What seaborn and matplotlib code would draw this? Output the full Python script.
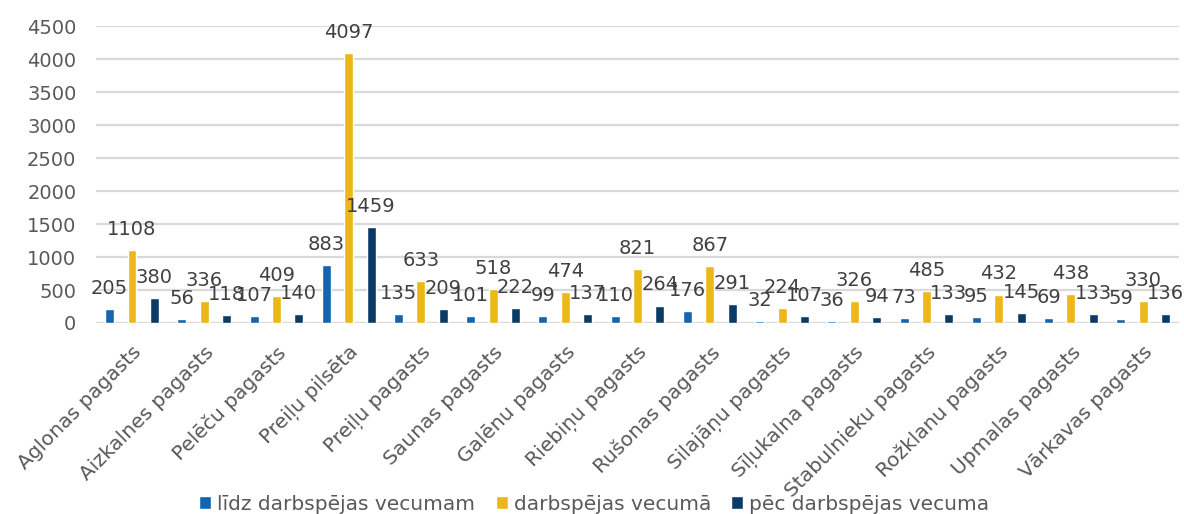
import pandas as pd
import matplotlib
matplotlib.use('Agg')
import matplotlib.pyplot as plt
import seaborn as sns

# categories (municipalities) and population counts per age group
pagasti = ['Aglonas pagasts', 'Aizkalnes pagasts', 'Pelēču pagasts', 'Preiļu pilsēta',
           'Preiļu pagasts', 'Saunas pagasts', 'Galēnu pagasts', 'Riebiņu pagasts',
           'Rušonas pagasts', 'Silajāņu pagasts', 'Sīļukalna pagasts', 'Stabulnieku pagasts',
           'Rožklanu pagasts', 'Upmalas pagasts', 'Vārkavas pagasts']
lidz = [205, 56, 107, 883, 135, 101, 99, 110, 176, 32, 36, 73, 95, 69, 59]
darbspejas = [1108, 336, 409, 4097, 633, 518, 474, 821, 867, 224, 326, 485, 432, 438, 330]
pec = [380, 118, 140, 1459, 209, 222, 137, 264, 291, 107, 94, 133, 145, 133, 136]
groups = ['līdz darbspējas vecumam', 'darbspējas vecumā', 'pēc darbspējas vecuma']
colors = ['#1265B0', '#EBB719', '#0A3A66']

df = pd.DataFrame({
    'pagasts': pagasti * 3,
    'grupa': [groups[0]] * len(pagasti) + [groups[1]] * len(pagasti) + [groups[2]] * len(pagasti),
    'skaits': lidz + darbspejas + pec,
})

sns.set_style('white')
plt.rcParams['font.family'] = ['DejaVu Sans']
text_color = '#595959'

fig = plt.figure(figsize=(11.84, 5.14), dpi=100)
ax = fig.add_axes([0.081, 0.3716, 0.915, 0.5775])

sns.barplot(data=df, x='pagasts', y='skaits', hue='grupa', hue_order=groups,
            palette=colors, saturation=1, width=0.93, gap=0.6, ax=ax, legend=True)

# value labels above every bar
for cont in ax.containers:
    ax.bar_label(cont, fmt='%d', padding=8, fontsize=14, color='#404040')

ax.set_ylim(0, 4500)
ax.set_yticks(range(0, 4501, 500))
ax.yaxis.grid(True, color='#D9D9D9', linewidth=1.6)
ax.set_axisbelow(True)
sns.despine(ax=ax, left=True, bottom=True, top=True, right=True)
ax.set_xlabel('')
ax.set_ylabel('')
ax.tick_params(axis='y', length=0, pad=14, labelsize=14, labelcolor=text_color)
ax.tick_params(axis='x', length=0, pad=14, labelsize=14.5, labelcolor=text_color)
for lbl in ax.get_xticklabels():
    lbl.set_rotation(45)
    lbl.set_ha('right')
    lbl.set_rotation_mode('anchor')

ax.get_legend().remove()
handles, labels = ax.get_legend_handles_labels()
fig.legend(handles, labels, loc='lower center', bbox_to_anchor=(0.502, -0.035), ncol=3,
           frameon=False, fontsize=14.5, labelcolor=text_color, handlelength=0.6,
           handleheight=0.6, handletextpad=0.3, columnspacing=1.0)

fig.savefig('out.png', dpi=100)
